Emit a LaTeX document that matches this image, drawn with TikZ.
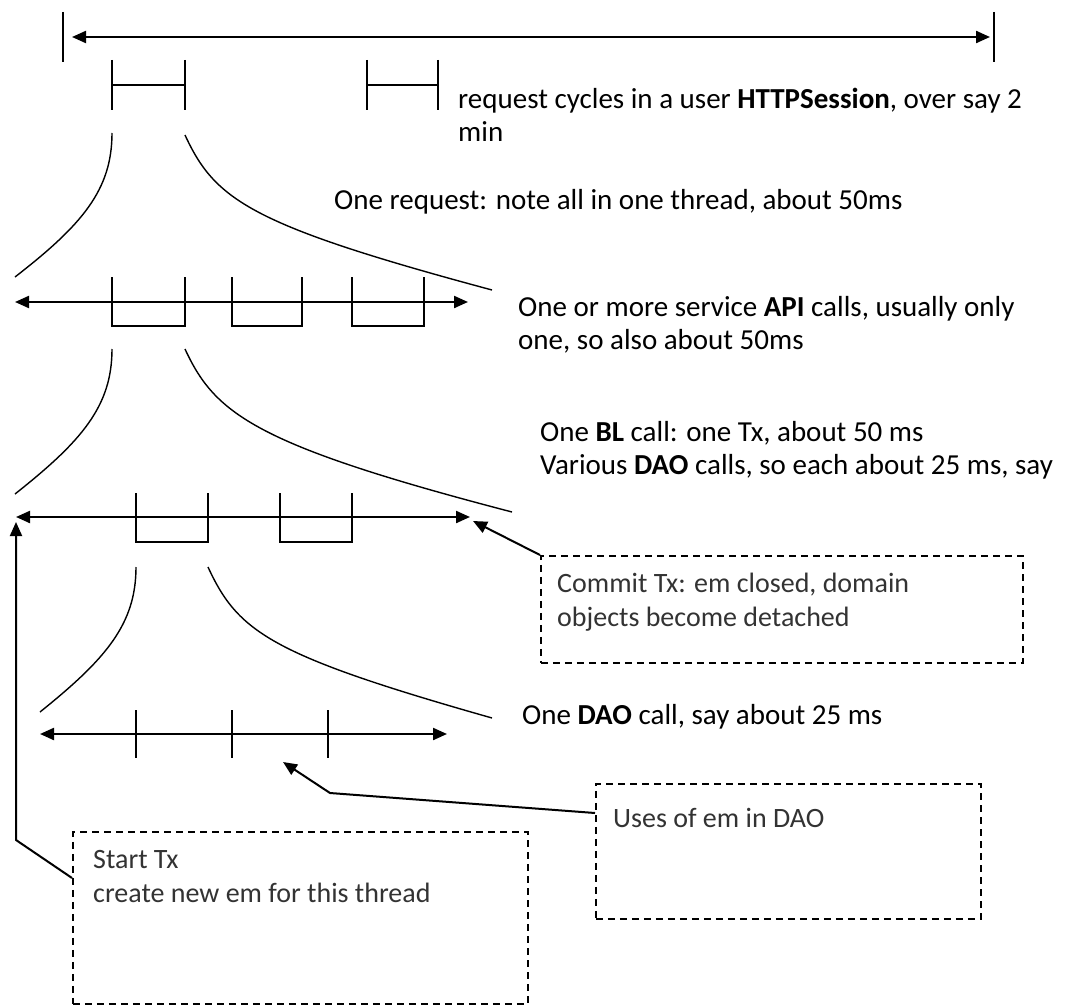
\documentclass[tikz,border=0pt]{standalone}
\usepackage{fontspec}
\setmainfont{Carlito}
\usetikzlibrary{arrows.meta, calc}

\begin{document}
\begin{tikzpicture}[x=1pt, y=-1pt,
    bar/.style={line width=2.2pt},
    axis/.style={line width=2.2pt,
                 {Triangle[length=14pt,width=12pt]}-{Triangle[length=14pt,width=12pt]}},
    fan/.style={line width=1.4pt},
    lbl/.style={anchor=base west, align=left, inner sep=0pt,
                font=\fontsize{29}{33}\selectfont},
    note/.style={draw, dash pattern=on 7pt off 5pt, line width=1.6pt,
                 anchor=north west, inner sep=0pt},
    notetxt/.style={anchor=base west, align=left, inner sep=0pt, text=black!80,
                    font=\fontsize{28}{34}\selectfont},
    ptr/.style={line width=2pt, -{Triangle[length=14pt,width=12pt]}}
  ]
  \path[use as bounding box, fill=white] (0,0) rectangle (1076,1006);

  % Session span with end stops
  \draw[bar] (63,12) -- (63,62);
  \draw[bar] (994,12) -- (994,62);
  \coordinate (sesL) at (72,37);
  \coordinate (sesR) at (990,37);
  \draw[axis] (sesL) -- (sesR);

  % Request cycles
  \foreach \a/\b in {112/185, 367/438} {
    \draw[bar] (\a,60) -- (\a,110);
    \draw[bar] (\b,60) -- (\b,110);
    \draw[bar] (\a,85) -- (\b,85);
  }
  % (base anchor of a two line label sits on its last line)
  \node[lbl] (reqlbl) at (458,142)
        {request cycles in a user \textbf{HTTPSession}, over say 2\\min};

  % One request opened up
  \draw[fan] (112,133) .. controls (112,190) and (82,225) .. (15,277);
  \draw[fan] (185,135) .. controls (215,200) and (250,225) .. (492,290);
  \node[lbl] (reqone) at (334,209) {One request: note all in one thread, about 50ms};

  % Service API calls
  \coordinate (svcL) at (15,302);
  \coordinate (svcR) at (468,302);
  \draw[axis] (svcL) -- (svcR);
  \foreach \a/\b in {112/185, 232/302, 352/424}
    \draw[bar] (\a,277) -- (\a,326) -- (\b,326) -- (\b,277);
  \node[lbl] (svclbl) at (518,349)
        {One or more service \textbf{API} calls, usually only\\one, so also about 50ms};

  % One service call opened up
  \draw[fan] (112,349) .. controls (112,406) and (82,441) .. (15,494);
  \draw[fan] (185,349) .. controls (215,414) and (255,445) .. (512,512);
  \node[lbl] (bllbl) at (540,474)
        {One \textbf{BL} call: one Tx, about 50 ms\\
         Various \textbf{DAO} calls, so each about 25 ms, say};

  % BL call, one Tx
  \coordinate (blL) at (16,517);
  \coordinate (blR) at (470,517);
  \draw[axis] (blL) -- (blR);
  \foreach \a/\b in {136/208, 280/352}
    \draw[bar] (\a,493) -- (\a,542) -- (\b,542) -- (\b,493);

  % One DAO call opened up
  \draw[fan] (136,567) .. controls (136,624) and (106,659) .. (40,712);
  \draw[fan] (208,567) .. controls (238,632) and (270,655) .. (492,718);
  \node[lbl] (daolbl) at (522,724) {One \textbf{DAO} call, say about 25 ms};

  % DAO call with em uses
  \coordinate (daoL) at (40,734);
  \coordinate (daoR) at (447,734);
  \draw[axis] (daoL) -- (daoR);
  \foreach \a in {136, 232, 328}
    \draw[bar] (\a,710) -- (\a,758);

  % Notes
  \node[note, minimum width=482pt, minimum height=107pt] (commit) at (540,555) {};
  \node[notetxt] (committxt) at (557,626)
        {Commit Tx: em closed, domain\\objects become detached};

  \node[note, minimum width=385pt, minimum height=135pt] (uses) at (595,783) {};
  \node[notetxt] (usestxt) at (613,827) {Uses of em in DAO};

  \node[note, minimum width=455pt, minimum height=172pt] (start) at (72,831) {};
  \node[notetxt] (starttxt) at (93,902) {Start Tx\\create new em for this thread};

  % Pointers from the notes
  \coordinate (commitTip) at (473,521);
  \coordinate (usesTip) at (283,762);
  \coordinate (startTip) at (16,522);
  \draw[ptr] (commit.north west) -- (commitTip);
  \draw[ptr] ($(uses.north west)+(0,30)$) -- (330,793) -- (usesTip);
  \draw[ptr] ($(start.north west)+(0,47)$) -- (16,840) -- (startTip);
\end{tikzpicture}
\end{document}
